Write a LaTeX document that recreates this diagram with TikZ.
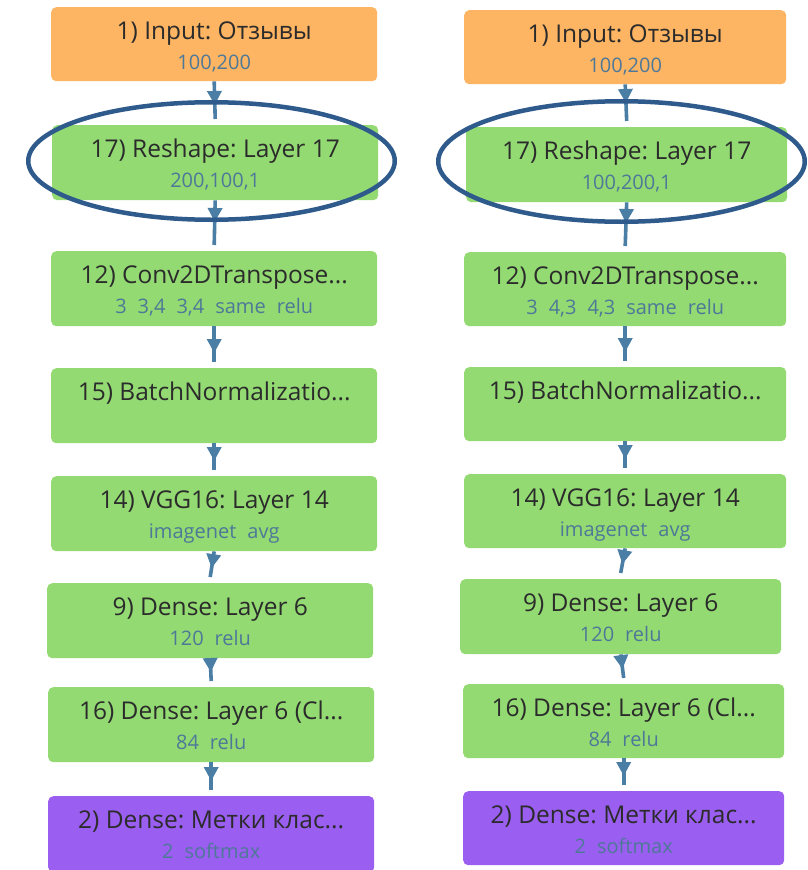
\documentclass[tikz,border=0pt]{standalone}
\usepackage{fontspec}
\setmainfont{Open Sans}
\frenchspacing
\usetikzlibrary{calc,arrows.meta,decorations.markings,shapes.geometric}
\definecolor{inorange}{HTML}{FDB563}
\definecolor{lgreen}{HTML}{93DA73}
\definecolor{lpurple}{HTML}{9A5EF0}
\definecolor{ttlc}{HTML}{2B2B2B}
\definecolor{subc}{HTML}{4E7898}
\definecolor{arrowc}{HTML}{4B7EA5}
\definecolor{ringc}{HTML}{2F5A8C}
\tikzset{
  layerbox/.style={anchor=north west, rounded corners=5pt, inner sep=0pt, draw=none},
  ttl/.style={inner sep=0pt, text height=0.72em, text depth=0pt, font=\fontsize{24.5}{28}\selectfont\frenchspacing, text=ttlc},
  subt/.style={inner sep=0pt, text height=0.72em, text depth=0pt, font=\fontsize{20}{24}\selectfont\frenchspacing, text=subc},
  conn/.style={draw=arrowc, line width=3.6pt,
    decoration={markings, mark=at position #1 with {\arrow{Triangle[width=14pt,length=14pt]}}},
    postaction={decorate}},
  conn/.default=-9pt,
  ring/.style={ellipse, draw=ringc, line width=4.5pt, inner sep=0pt}
}
\newcommand\mylayer[7]{%
  \node[layerbox, fill=#6, minimum width=#4pt, minimum height=#5pt] (#1) at (#2,#3) {};
  \node[ttl] (#1t) at ($(#1.north)+(0,29)$) {#7};
}
\newcommand\mysubline[2]{%
  \node[subt] (#1s) at ($(#1.north)+(0,59)$) {#2};
}
\newcommand\gap{\hspace{0.55em}}
\begin{document}
\begin{tikzpicture}[x=1pt,y=-1pt]
\useasboundingbox (0,0) rectangle (808,870);
% left column
\mylayer{L1}{51}{7}{326}{74}{inorange}{1) Input: Отзывы}
\mysubline{L1}{100,200}
\mylayer{L2}{52}{125}{326}{75}{lgreen}{17) Reshape: Layer 17}
\mysubline{L2}{200,100,1}
\mylayer{L3}{51}{251}{326}{75}{lgreen}{12) Conv2DTranspose...}
\mysubline{L3}{3\gap 3,4\gap 3,4\gap same\gap relu}
\mylayer{L4}{51}{368}{326}{75}{lgreen}{15) BatchNormalizatio...}
\mylayer{L5}{51}{476}{326}{75}{lgreen}{14) VGG16: Layer 14}
\mysubline{L5}{imagenet\gap avg}
\mylayer{L6}{47}{583}{326}{75}{lgreen}{9) Dense: Layer 6}
\mysubline{L6}{120\gap relu}
\mylayer{L7}{48}{687}{326}{75}{lgreen}{16) Dense: Layer 6 (Cl...}
\mysubline{L7}{84\gap relu}
\mylayer{L8}{48}{796}{326}{76}{lpurple}{2) Dense: Метки клас...}
\mysubline{L8}{2\gap softmax}
% right column
\mylayer{R1}{464}{10}{322}{74}{inorange}{1) Input: Отзывы}
\mysubline{R1}{100,200}
\mylayer{R2}{466}{127}{321}{75}{lgreen}{17) Reshape: Layer 17}
\mysubline{R2}{100,200,1}
\mylayer{R3}{464}{252}{322}{74}{lgreen}{12) Conv2DTranspose...}
\mysubline{R3}{3\gap 4,3\gap 4,3\gap same\gap relu}
\mylayer{R4}{464}{367}{322}{74}{lgreen}{15) BatchNormalizatio...}
\mylayer{R5}{464}{474}{322}{74}{lgreen}{14) VGG16: Layer 14}
\mysubline{R5}{imagenet\gap avg}
\mylayer{R6}{460}{579}{321}{75}{lgreen}{9) Dense: Layer 6}
\mysubline{R6}{120\gap relu}
\mylayer{R7}{463}{684}{321}{74}{lgreen}{16) Dense: Layer 6 (Cl...}
\mysubline{R7}{84\gap relu}
\mylayer{R8}{463}{791}{321}{74}{lpurple}{2) Dense: Метки клас...}
\mysubline{R8}{2\gap softmax}
% connectors
\draw[conn=-14pt] (L1.south) -- ($(L2.north)+(0,-6)$);
\draw[conn=-23pt] (L2.south) -- ($(L3.north)+(0,-6)$);
\foreach \a/\b in {L3/L4,L4/L5,L5/L6,L6/L7,L7/L8,R3/R4,R4/R5,R5/R6,R6/R7,R7/R8}
  \draw[conn] (\a.south) -- ($(\b.north)+(0,-6)$);
\draw[conn=-18pt] (R1.south) -- ($(R2.north)+(0,-6)$);
\draw[conn=-23pt] (R2.south) -- ($(R3.north)+(0,-6)$);
% highlight rings
\node[ring, minimum width=366.5pt, minimum height=117.5pt] (E1) at (211.5,161) {};
\node[ring, minimum width=366.5pt, minimum height=120.5pt] (E2) at (621.5,161.5) {};
\end{tikzpicture}
\end{document}
